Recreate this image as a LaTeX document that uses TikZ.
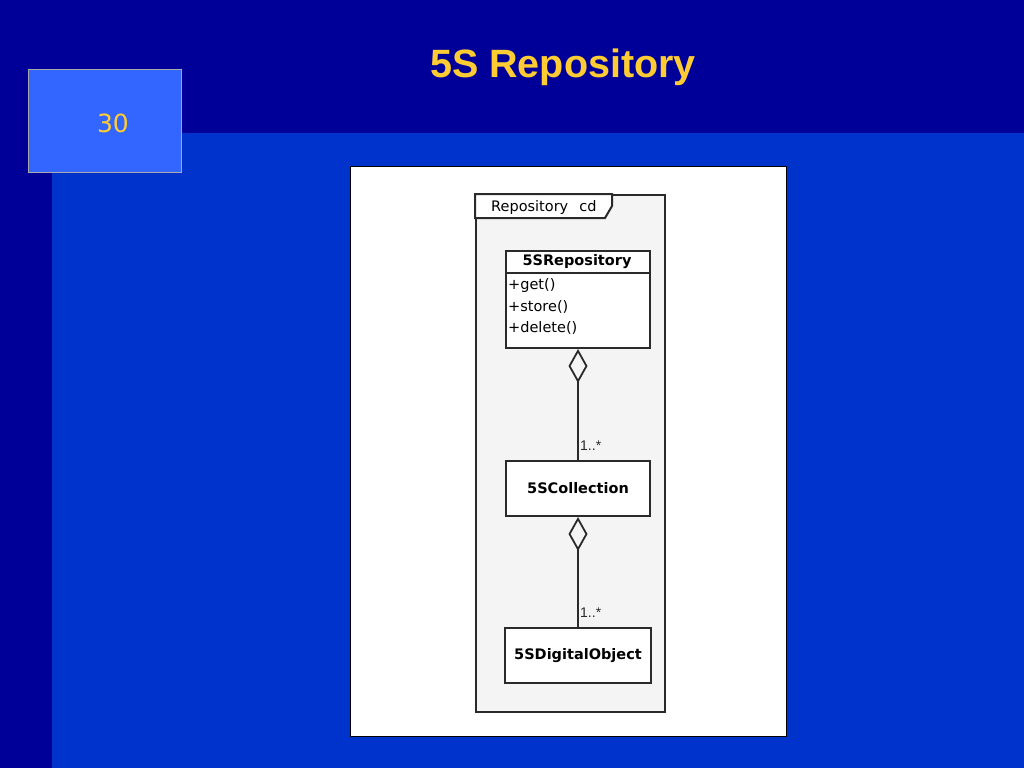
\documentclass[tikz,border=0pt]{standalone}
\usepackage{fontspec}
\setmainfont{Liberation Sans}
\newfontfamily\numfont{DejaVu Sans}
\newfontfamily\umlfont{DejaVu Sans}
\usetikzlibrary{arrows.meta}
\definecolor{darkbg}{HTML}{000099}
\definecolor{midbg}{HTML}{0033CC}
\definecolor{numbox}{HTML}{3366FF}
\definecolor{gold}{HTML}{FFCC33}
\definecolor{framefill}{HTML}{F4F4F4}
\definecolor{umlline}{HTML}{2A2A2A}
\tikzset{
  classbox/.style={draw=umlline, line width=2pt, fill=white, anchor=north west, inner sep=0pt},
  classname/.style={font=\umlfont\fontsize{14.5}{16}\selectfont\bfseries, text=black, inner sep=0pt},
  member/.style={font=\umlfont\fontsize{14.5}{16}\selectfont, text=black, inner sep=0pt, anchor=west},
  mult/.style={font=\fontsize{14}{15}\selectfont, text=umlline, inner sep=0pt, anchor=west},
  aggr/.style={draw=umlline, line width=2pt, {Diamond[open, length=34pt, width=19pt, line width=1.8pt]}-}
}
\begin{document}
\begin{tikzpicture}[x=1pt, y=-1pt]
\useasboundingbox (0,0) rectangle (1024,768);
% backgrounds
\fill[darkbg] (0,0) rectangle (1024,768);
\fill[midbg] (52,133) rectangle (1024,768);
% number box
\node[draw={rgb,255:red,170;green,170;blue,170}, line width=1.2pt, fill=numbox, minimum width=153pt, minimum height=103pt, anchor=north west, inner sep=0pt] (numbox) at (28,69) {};
\node[font=\numfont\fontsize{25}{28}\selectfont, text=gold, inner sep=0pt] (num) at (113,123) {30};
% title
\node[font=\fontsize{39.5}{44}\selectfont\bfseries, text=gold, inner sep=0pt] (title) at (563,67) {5S Repository};
% white picture
\node[draw=black, line width=1pt, fill=white, minimum width=436pt, minimum height=570pt, anchor=north west, inner sep=0pt] (pic) at (350,166) {};
% UML frame
\node[draw=umlline, line width=2pt, fill=framefill, minimum width=189pt, minimum height=517pt, anchor=north west, inner sep=0pt] (frame) at (475,194) {};
\draw[umlline, line width=2pt, fill=white] (475,194) -- (612,194) -- (612,206) -- (605,218) -- (475,218) -- cycle;
\node[font=\umlfont\fontsize{14.5}{16}\selectfont, text=black, inner sep=0pt, anchor=west] (tab) at (491,207) {Repository\hspace{11pt}cd};
% classes
\node[classbox, minimum width=144pt, minimum height=97pt] (repo) at (505,250) {};
\draw[umlline, line width=2pt] (505,273) -- (649,273);
\node[classname] (reponame) at (577,262) {5SRepository};
\node[member] (m1) at (508,286) {+get()};
\node[member] (m2) at (508,307) {+store()};
\node[member] (m3) at (508,328) {+delete()};
\node[classbox, minimum width=144pt, minimum height=55pt] (coll) at (505,460) {};
\node[classname] (collname) at (coll.center) {5SCollection};
\node[classbox, minimum width=146pt, minimum height=55pt] (dobj) at (504,627) {};
\node[classname] (dobjname) at (dobj.center) {5SDigitalObject};
% aggregations
\draw[aggr] (repo.south) -- (coll.north);
\draw[aggr] (coll.south) -- (dobj.north);
\node[mult] (mult1) at (580,446) {1..*};
\node[mult] (mult2) at (580,613) {1..*};
\end{tikzpicture}
\end{document}
